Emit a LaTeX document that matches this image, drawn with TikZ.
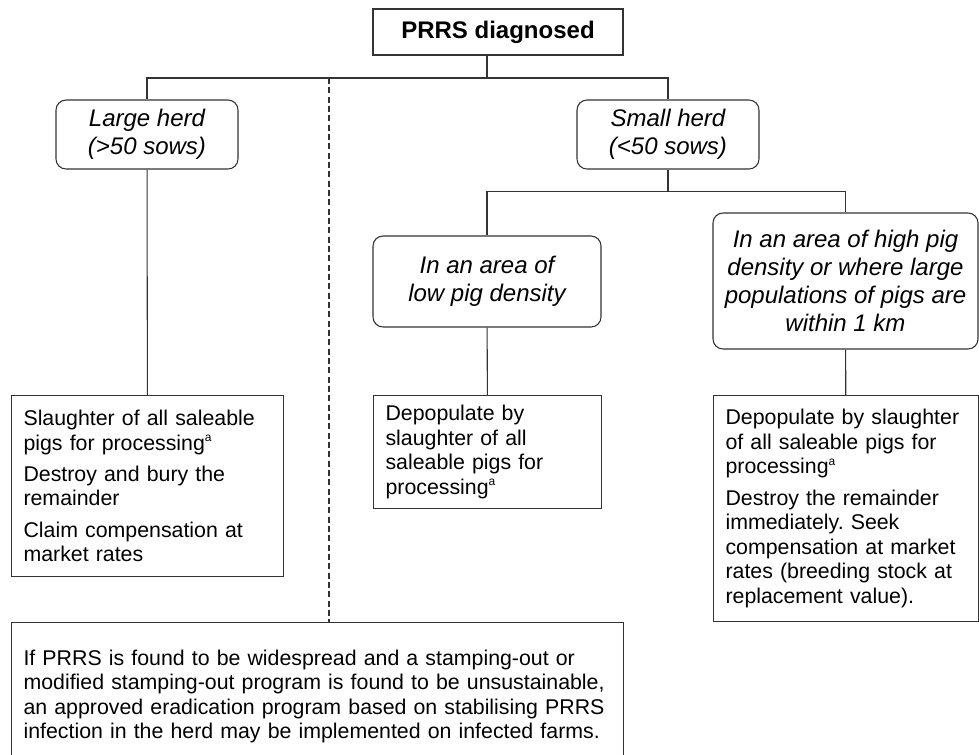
\documentclass[tikz,border=0pt]{standalone}
\usepackage{fontspec}
\setmainfont{Liberation Sans}
\usetikzlibrary{calc}
\frenchspacing
\newcommand{\fnmark}{\textsuperscript{\fontsize{9}{9}\selectfont a}} % footnote a
\tikzset{
	% rounded boxes with the herd questions
	herdbox/.style={draw=black!80, line width=0.8pt, rounded corners=7.5pt, align=center, inner sep=0pt, font=\fontsize{18}{21}\selectfont\itshape},
	% square boxes with the actions
	actionbox/.style={draw=black!80, line width=0.8pt, anchor=north west, align=left, inner xsep=9pt, inner ysep=0pt, font=\fontsize{16}{18.4}\selectfont},
	link/.style={draw=black!80, line width=0.8pt},
	cutline/.style={draw=black!80, line width=0.8pt, dash pattern=on 4.5pt off 2.5pt}
}

\begin{document}
\begin{tikzpicture}[x=0.75pt, y=-0.75pt]
	% page: 979px x 754px
	\useasboundingbox (0,0) rectangle (979,754);
	
	\node[draw=black!80, line width=0.8pt, minimum width=187.5pt, minimum height=34.5pt, inner sep=0pt, font=\fontsize{18}{21}\selectfont\bfseries] (diagnosed) at (498,32) {PRRS diagnosed};
	
	\node[herdbox, minimum width=136.5pt, minimum height=51.75pt] (large) at (147,134.5) {Large herd\\(>50 sows)};
	\node[herdbox, minimum width=136.5pt, minimum height=51.75pt] (small) at (668,134.5) {Small herd\\(<50 sows)};
	
	\node[herdbox, minimum width=171pt, minimum height=68.25pt] (low) at (487,281.5) {In an area of\\low pig density};
	\node[herdbox, minimum width=198.75pt, minimum height=102pt] (high) at (845.5,281) {In an area of high pig\\density or where large\\populations of pigs are\\within 1 km};
	
	\node[actionbox, text width=186pt, minimum height=135.75pt] (slaughter) at (11,395) {Slaughter of all saleable\\pigs for processing\fnmark\\[5pt]Destroy and bury the\\remainder\\[5pt]Claim compensation at\\market rates};
	\node[actionbox, text width=153pt, minimum height=84.75pt] (depop) at (373,395) {Depopulate by\\slaughter of all\\saleable pigs for\\processing\fnmark};
	\node[actionbox, text width=180.75pt, minimum height=169.5pt] (destroy) at (713,395) {Depopulate by slaughter\\of all saleable pigs for\\processing\fnmark\\[5pt]Destroy the remainder\\immediately. Seek\\compensation at market\\rates (breeding stock at\\replacement value).};
	
	% bottom box runs off the page
	\node[actionbox, text width=441pt, minimum height=111pt] (widespread) at (11,622) {If PRRS is found to be widespread and a stamping-out or\\modified stamping-out program is found to be unsustainable,\\an approved eradication program based on stabilising PRRS\\infection in the herd may be implemented on infected farms.};
	
	% tree lines
	\coordinate (bus) at (487,78);
	\coordinate (cut) at (329,78);
	\coordinate (subbus) at ($(small.south)+(0,22)$);
	\draw[link] (diagnosed.south -| bus) -- (bus);
	\draw[link] (large.north) |- (bus) -| (small.north);
	\draw[link] (small.south) -- (subbus);
	\draw[link] (low.north) |- (subbus) -| (high.north);
	\draw[link] (large) -- (slaughter);
	\draw[link] (low) -- (depop);
	\draw[link] (high) -- (destroy);
	\draw[cutline] (cut) -- (cut |- widespread.north);
	
\end{tikzpicture}
\end{document}
